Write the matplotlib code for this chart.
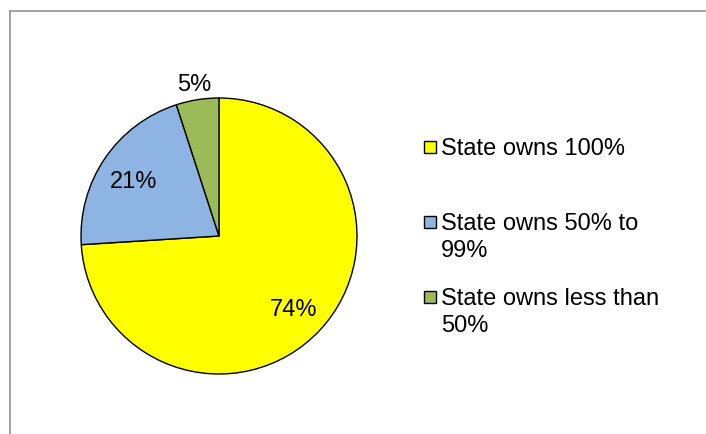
import matplotlib
matplotlib.use("Agg")
import matplotlib.pyplot as plt
from matplotlib.patches import Rectangle
from matplotlib.lines import Line2D
import numpy as np

plt.rcParams['font.family'] = ['Liberation Sans', 'DejaVu Sans']

categories = ["State owns 100%", "State owns 50% to\n99%", "State owns less than\n50%"]
values = [74, 21, 5]
pct_labels = ["74%", "21%", "5%"]
colors = ["#FFFF00", "#8EB4E3", "#9BBB59"]

W, H = 706, 435
fig = plt.figure(figsize=(W / 100, H / 100), dpi=100)

# frame lines (top and left)
fig.add_artist(Line2D([10 / W, 705 / W], [1 - 12 / H, 1 - 12 / H], color="#9a9a9a", lw=1.3))
fig.add_artist(Line2D([10 / W, 10 / W], [1 - 12 / H, 0], color="#9a9a9a", lw=1.3))

cx, cy, r = 219, 237, 138
ax = fig.add_axes([(cx - r) / W, (H - cy - r) / H, 2 * r / W, 2 * r / H])
wedges, _ = ax.pie(values, colors=colors, startangle=90, counterclock=False,
                   wedgeprops=dict(edgecolor="black", linewidth=1.0))
ax.set_xlim(-1, 1)
ax.set_ylim(-1, 1)
ax.set_aspect("equal")
ax.axis("off")

fs = 17
start = 90.0
total = sum(values)
for v, lab in zip(values, pct_labels):
    span = 360.0 * v / total
    mid = np.deg2rad(start - span / 2)
    start -= span
    d = 0.745 if v / total > 0.1 else 1.13
    ax.text(d * np.cos(mid), d * np.sin(mid), lab, ha="center", va="center_baseline",
            fontsize=fs, clip_on=False)

# legend drawn manually
baselines = [155, 230, 305]
line_step = 27
for yb, lab, c in zip(baselines, categories, colors):
    yc = yb - 7.5
    fig.add_artist(Rectangle((423.5 / W, 1 - (yc + 6) / H), 12 / W, 12 / H,
                             facecolor=c, edgecolor="black", lw=1.0,
                             transform=fig.transFigure))
    for i, line in enumerate(lab.split("\n")):
        fig.text(441 / W, 1 - (yb + i * line_step) / H, line, ha="left",
                 va="baseline", fontsize=fs)

fig.savefig("out.png", dpi=100)
